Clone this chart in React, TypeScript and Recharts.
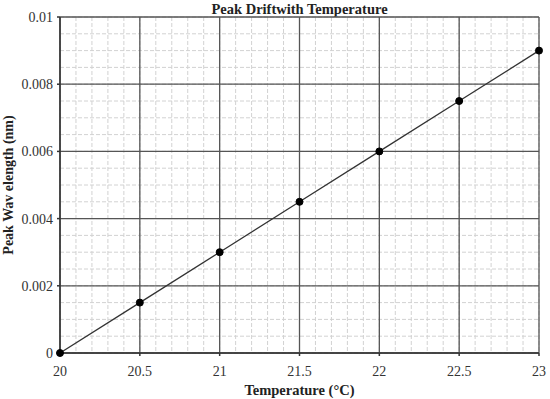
import { LineChart, Line, XAxis, YAxis, CartesianGrid, Label } from 'recharts';

const temperatures = [20, 20.5, 21, 21.5, 22, 22.5, 23];
const peakDrift = [0, 0.0015, 0.003, 0.0045, 0.006, 0.0075, 0.009];

const xTicks = [20, 20.5, 21, 21.5, 22, 22.5, 23];
const yTicks = [0, 0.002, 0.004, 0.006, 0.008, 0.01];
const xMinorTicks = [
  20, 20.1, 20.2, 20.3, 20.4, 20.5, 20.6, 20.7, 20.8, 20.9, 21, 21.1, 21.2, 21.3, 21.4, 21.5,
  21.6, 21.7, 21.8, 21.9, 22, 22.1, 22.2, 22.3, 22.4, 22.5, 22.6, 22.7, 22.8, 22.9, 23,
];
const yMinorTicks = [
  0, 0.0005, 0.001, 0.0015, 0.002, 0.0025, 0.003, 0.0035, 0.004, 0.0045, 0.005, 0.0055, 0.006,
  0.0065, 0.007, 0.0075, 0.008, 0.0085, 0.009, 0.0095, 0.01,
];

const data = temperatures.map((t, i) => ({ temp: t, drift: peakDrift[i] }));

const serif = '"Liberation Serif", "Times New Roman", serif';

const XTick = (props: any) => {
  const { x, y, payload } = props;
  return (
    <text x={x} y={y} dy={15} textAnchor="middle" fill="#333" fontSize={14} fontFamily={serif}>
      {payload.value}
    </text>
  );
};

const YTick = (props: any) => {
  const { x, y, payload } = props;
  return (
    <text x={x} y={y} dy={5} textAnchor="end" fill="#333" fontSize={14} fontFamily={serif}>
      {payload.value}
    </text>
  );
};

export default function App() {
  return (
    <div
      style={{
        position: 'absolute',
        left: 0,
        top: 0,
        width: 550,
        height: 399,
        background: '#fff',
        fontFamily: serif,
      }}
    >
      <div
        style={{
          position: 'absolute',
          left: 60,
          width: 479,
          top: 1,
          textAlign: 'center',
          fontWeight: 'bold',
          fontSize: 14.5,
          color: '#222',
        }}
      >
        Peak Driftwith Temperature
      </div>
      <LineChart width={550} height={399} data={data} margin={{ top: 17, right: 11, left: 0, bottom: 0 }}>
        <XAxis xAxisId="minor" type="number" dataKey="temp" domain={[20, 23]} ticks={xMinorTicks} interval={0} allowDataOverflow hide />
        <YAxis yAxisId="minor" type="number" domain={[0, 0.01]} ticks={yMinorTicks} interval={0} allowDataOverflow hide />
        <CartesianGrid xAxisId="minor" yAxisId="minor" stroke="#d2d2d2" strokeDasharray="4 2" />
        <CartesianGrid stroke="#555" strokeWidth={1.3} />
        <XAxis
          type="number"
          dataKey="temp"
          domain={[20, 23]}
          ticks={xTicks}
          interval={0}
          height={46}
          tick={<XTick />}
          tickSize={3}
          tickMargin={5}
          stroke="#333"
          strokeWidth={1.5}
        >
          <Label
            value="Temperature (°C)"
            position="insideBottom"
            offset={4}
            style={{ fill: '#222', fontSize: 14.5, fontWeight: 'bold', fontFamily: serif }}
          />
        </XAxis>
        <YAxis
          type="number"
          domain={[0, 0.01]}
          ticks={yTicks}
          interval={0}
          width={60}
          tick={<YTick />}
          tickSize={3}
          tickMargin={4}
          stroke="#333"
          strokeWidth={1.5}
        >
          <Label
            value="Peak Wav elength (nm)"
            angle={-90}
            position="insideLeft"
            offset={8}
            style={{ fill: '#222', fontSize: 14, fontWeight: 'bold', fontFamily: serif, textAnchor: 'middle' }}
          />
        </YAxis>
        <Line
          type="linear"
          dataKey="drift"
          stroke="#333"
          strokeWidth={1.3}
          dot={{ r: 3.5, fill: '#000', stroke: '#000', strokeWidth: 1 }}
          isAnimationActive={false}
        />
      </LineChart>
    </div>
  );
}
